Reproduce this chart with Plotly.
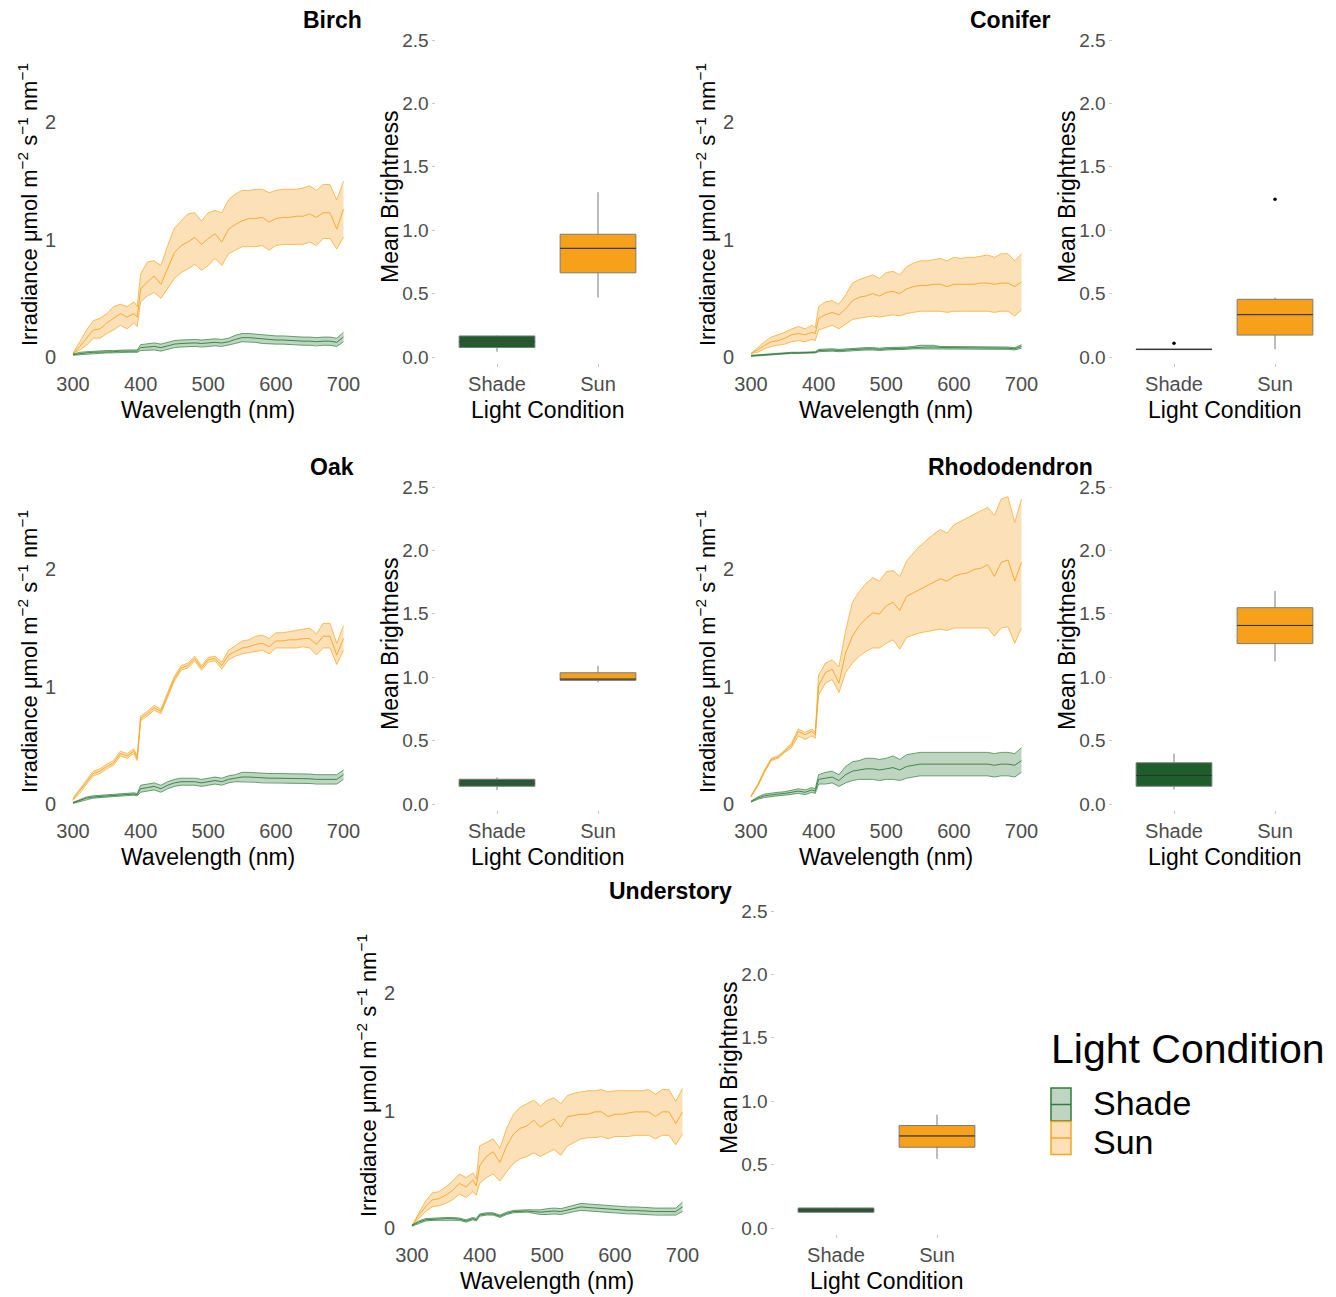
import plotly.graph_objects as go

# ---------------- DATA ----------------
SPECIES = ["Birch", "Conifer", "Oak", "Rhododendron", "Understory"]
CONDITIONS = ["Shade", "Sun"]
WAVELENGTH = [300, 310, 320, 330, 340, 350, 360, 370, 380, 390, 395,
              400, 410, 420, 430, 440, 450, 460, 470, 480, 490,
              500, 510, 520, 530, 540, 550, 560, 570, 580, 590,
              600, 610, 620, 630, 640, 650, 660, 670, 680, 690, 700]

BIRCH_SUN_MEAN = [.03, .09, .16, .23, .24, .29, .33, .37, .34, .37, .34,
                  .58, .64, .69, .62, .75, .89, .95, .98, 1.02, .96,
                  1.01, 1.05, .98, 1.09, 1.13, 1.16, 1.18, 1.18, 1.19, 1.15,
                  1.18, 1.19, 1.19, 1.20, 1.20, 1.22, 1.19, 1.23, 1.23, 1.09, 1.26]
BIRCH_SUN_LO = [.03, .06, .10, .16, .16, .20, .23, .27, .24, .29, .26,
                .47, .52, .55, .50, .58, .67, .72, .75, .79, .74,
                .78, .84, .78, .88, .91, .94, .94, .94, .95, .91,
                .95, .96, .96, .96, .96, .98, .95, 1.01, 1.01, .92, 1.02]
BIRCH_SUN_HI = [.03, .13, .23, .31, .33, .37, .43, .45, .43, .47, .43,
                .71, .81, .82, .78, .95, 1.10, 1.16, 1.22, 1.23, 1.16,
                1.23, 1.25, 1.23, 1.34, 1.39, 1.42, 1.42, 1.43, 1.43, 1.40,
                1.42, 1.43, 1.43, 1.43, 1.44, 1.46, 1.42, 1.47, 1.47, 1.34, 1.50]
BIRCH_SHADE_MEAN = [.02, .03, .035, .04, .04, .045, .045, .05, .05, .05, .05,
                    .08, .085, .09, .08, .095, .11, .115, .12, .12, .115,
                    .12, .125, .12, .13, .15, .165, .165, .16, .15, .145,
                    .145, .145, .14, .14, .135, .135, .13, .135, .135, .125, .17]
BIRCH_SHADE_LO = [.015, .02, .025, .03, .03, .035, .035, .04, .04, .04, .04,
                  .055, .06, .06, .05, .065, .08, .085, .09, .09, .085,
                  .09, .095, .09, .10, .115, .13, .13, .125, .115, .11,
                  .11, .11, .105, .105, .10, .10, .095, .10, .10, .09, .13]
BIRCH_SHADE_HI = [.025, .04, .045, .05, .05, .055, .055, .06, .06, .06, .06,
                  .105, .11, .12, .11, .125, .14, .145, .15, .15, .145,
                  .15, .155, .15, .16, .185, .20, .20, .195, .185, .18,
                  .18, .18, .175, .175, .17, .17, .165, .17, .17, .16, .21]

CONIFER_SUN_MEAN = [.03, .06, .10, .13, .14, .16, .19, .20, .19, .21, .20,
                    .33, .36, .38, .36, .41, .48, .51, .52, .54, .52,
                    .55, .56, .54, .58, .60, .61, .61, .62, .62, .60,
                    .62, .62, .62, .62, .63, .63, .62, .63, .63, .60, .64]
CONIFER_SUN_LO = [.03, .04, .07, .09, .10, .11, .13, .14, .13, .15, .14,
                  .23, .25, .27, .24, .28, .32, .33, .34, .35, .34,
                  .35, .36, .35, .37, .38, .39, .39, .39, .39, .38,
                  .39, .39, .39, .39, .39, .39, .38, .39, .39, .35, .40]
CONIFER_SUN_HI = [.03, .08, .13, .17, .19, .21, .24, .26, .24, .27, .25,
                  .43, .47, .48, .45, .53, .63, .66, .68, .70, .67,
                  .72, .73, .70, .77, .80, .82, .82, .83, .84, .82,
                  .85, .84, .85, .85, .86, .87, .85, .88, .88, .82, .88]
CONIFER_SHADE_MEAN = [.01, .015, .02, .025, .03, .03, .035, .035, .035, .04, .04,
                      .055, .06, .06, .055, .06, .065, .07, .07, .07, .065,
                      .07, .07, .07, .075, .08, .085, .085, .085, .08, .08,
                      .08, .08, .08, .075, .075, .075, .075, .075, .075, .07, .09]
CONIFER_SHADE_LO = [.005, .01, .015, .02, .025, .025, .03, .03, .03, .035, .035,
                    .045, .05, .05, .045, .05, .055, .06, .06, .06, .055,
                    .06, .06, .06, .065, .07, .07, .07, .07, .07, .07,
                    .07, .07, .07, .065, .065, .065, .065, .065, .065, .06, .075]
CONIFER_SHADE_HI = [.015, .02, .025, .03, .035, .035, .04, .04, .04, .045, .045,
                    .065, .07, .07, .065, .07, .075, .08, .08, .08, .075,
                    .08, .08, .08, .085, .09, .10, .10, .10, .09, .09,
                    .09, .09, .09, .085, .085, .085, .085, .085, .085, .08, .105]

OAK_SUN_MEAN = [.04, .11, .19, .26, .28, .32, .35, .43, .41, .45, .39,
                .73, .77, .82, .79, .93, 1.07, 1.16, 1.18, 1.24, 1.16,
                1.23, 1.24, 1.18, 1.27, 1.30, 1.33, 1.34, 1.36, 1.37, 1.34,
                1.39, 1.39, 1.40, 1.40, 1.41, 1.41, 1.36, 1.43, 1.43, 1.27, 1.41]
OAK_SUN_LO = [.03, .09, .17, .24, .26, .30, .33, .41, .39, .43, .37,
              .71, .75, .80, .77, .91, 1.05, 1.14, 1.16, 1.22, 1.14,
              1.21, 1.22, 1.15, 1.23, 1.26, 1.28, 1.29, 1.30, 1.31, 1.28,
              1.33, 1.33, 1.33, 1.33, 1.34, 1.33, 1.27, 1.33, 1.33, 1.19, 1.31]
OAK_SUN_HI = [.05, .13, .21, .28, .30, .34, .37, .45, .43, .47, .41,
              .75, .79, .84, .81, .95, 1.09, 1.18, 1.20, 1.26, 1.18,
              1.25, 1.26, 1.21, 1.31, 1.35, 1.39, 1.40, 1.43, 1.44, 1.41,
              1.46, 1.46, 1.47, 1.48, 1.49, 1.50, 1.45, 1.54, 1.54, 1.37, 1.52]
OAK_SHADE_MEAN = [.01, .03, .05, .06, .065, .07, .075, .08, .085, .085, .08,
                  .13, .14, .15, .13, .16, .18, .19, .19, .19, .18,
                  .19, .20, .19, .21, .22, .23, .23, .225, .22, .22,
                  .22, .22, .215, .215, .215, .215, .21, .21, .21, .21, .25]
OAK_SHADE_LO = [.005, .02, .04, .05, .055, .06, .065, .07, .075, .075, .07,
                .10, .11, .12, .10, .13, .15, .16, .16, .16, .15,
                .16, .17, .16, .18, .19, .19, .19, .185, .18, .18,
                .18, .18, .175, .175, .175, .175, .17, .17, .17, .17, .21]
OAK_SHADE_HI = [.015, .04, .06, .07, .075, .08, .085, .09, .095, .095, .09,
                .16, .17, .18, .16, .19, .21, .22, .22, .22, .21,
                .22, .23, .22, .24, .25, .27, .27, .265, .26, .26,
                .26, .26, .255, .255, .255, .255, .25, .25, .25, .25, .29]

RHODO_SUN_MEAN = [.065, .16, .28, .38, .40, .45, .50, .62, .59, .62, .59,
                  1.01, 1.12, 1.15, 1.03, 1.29, 1.43, 1.52, 1.58, 1.63, 1.62,
                  1.69, 1.72, 1.65, 1.77, 1.80, 1.83, 1.86, 1.89, 1.92, 1.90,
                  1.94, 1.96, 1.97, 2.00, 2.01, 2.04, 1.94, 2.06, 2.08, 1.90, 2.06]
RHODO_SUN_LO = [.06, .15, .27, .37, .39, .44, .48, .58, .55, .58, .56,
                .93, 1.03, 1.06, .95, 1.12, 1.20, 1.26, 1.30, 1.33, 1.33,
                1.37, 1.40, 1.32, 1.42, 1.44, 1.46, 1.47, 1.48, 1.49, 1.48,
                1.50, 1.50, 1.50, 1.50, 1.50, 1.50, 1.43, 1.50, 1.51, 1.37, 1.50]
RHODO_SUN_HI = [.07, .17, .29, .39, .41, .46, .52, .64, .61, .64, .61,
                1.10, 1.20, 1.23, 1.17, 1.48, 1.72, 1.81, 1.88, 1.93, 1.90,
                1.98, 1.99, 1.94, 2.07, 2.14, 2.20, 2.25, 2.30, 2.34, 2.31,
                2.38, 2.41, 2.44, 2.47, 2.50, 2.53, 2.46, 2.60, 2.62, 2.40, 2.60]
RHODO_SHADE_MEAN = [.02, .05, .07, .08, .085, .09, .10, .11, .10, .12, .11,
                    .21, .22, .23, .20, .25, .28, .29, .30, .30, .29,
                    .30, .31, .29, .32, .33, .34, .34, .34, .34, .335,
                    .34, .34, .34, .34, .34, .34, .33, .34, .34, .33, .37]
RHODO_SHADE_LO = [.015, .04, .055, .065, .07, .075, .08, .09, .08, .10, .09,
                  .17, .17, .18, .15, .18, .20, .21, .21, .21, .20,
                  .21, .21, .20, .22, .23, .24, .24, .24, .24, .235,
                  .24, .24, .24, .24, .24, .24, .23, .24, .24, .23, .27]
RHODO_SHADE_HI = [.025, .06, .085, .095, .10, .105, .12, .13, .12, .14, .13,
                  .25, .27, .28, .25, .32, .36, .37, .39, .39, .38,
                  .39, .41, .38, .42, .43, .44, .44, .44, .44, .435,
                  .44, .44, .44, .44, .44, .44, .43, .44, .44, .43, .48]

UNDER_SUN_MEAN = [.02, .11, .18, .24, .25, .28, .32, .38, .35, .41, .36,
                  .53, .61, .65, .56, .70, .80, .85, .87, .92, .86,
                  .90, .93, .86, .95, .96, .97, .97, .99, .99, .95,
                  .97, .97, .98, .99, .99, .99, .95, .99, .99, .89, .99]
UNDER_SUN_LO = [.02, .08, .14, .18, .19, .21, .24, .29, .26, .31, .28,
                .38, .43, .46, .40, .48, .55, .59, .61, .64, .61,
                .64, .67, .62, .70, .73, .76, .77, .77, .78, .76,
                .78, .78, .78, .79, .79, .79, .76, .79, .79, .71, .80]
UNDER_SUN_HI = [.02, .13, .23, .30, .31, .35, .40, .46, .43, .47, .42,
                .70, .73, .76, .68, .85, .97, 1.03, 1.06, 1.09, 1.04,
                1.09, 1.11, 1.06, 1.13, 1.15, 1.16, 1.17, 1.17, 1.18, 1.16,
                1.17, 1.17, 1.17, 1.17, 1.17, 1.18, 1.14, 1.18, 1.18, 1.08, 1.19]
UNDER_SHADE_MEAN = [.02, .05, .07, .075, .075, .08, .08, .075, .06, .08, .07,
                    .11, .12, .12, .10, .125, .14, .145, .145, .14, .135,
                    .14, .145, .14, .155, .17, .18, .175, .17, .165, .16,
                    .16, .155, .15, .15, .145, .145, .14, .14, .14, .14, .18]
UNDER_SHADE_LO = [.015, .04, .06, .065, .065, .07, .07, .065, .05, .07, .06,
                  .10, .11, .11, .09, .115, .13, .135, .135, .125, .115,
                  .115, .12, .115, .13, .14, .15, .145, .14, .135, .13,
                  .13, .125, .12, .12, .115, .115, .11, .11, .11, .11, .14]
UNDER_SHADE_HI = [.025, .06, .08, .085, .085, .09, .09, .085, .07, .09, .08,
                  .12, .13, .13, .11, .135, .15, .155, .155, .155, .155,
                  .165, .17, .165, .18, .20, .21, .205, .20, .195, .19,
                  .19, .185, .18, .18, .175, .175, .17, .17, .17, .17, .22]

# Boxplot summaries, ordered as SPECIES
SHADE_Q1 = [0.075, 0.058, 0.140, 0.140, 0.124]
SHADE_MED = [0.120, 0.060, 0.165, 0.225, 0.140]
SHADE_Q3 = [0.166, 0.063, 0.195, 0.325, 0.158]
SHADE_LOW = [0.042, 0.058, 0.110, 0.114, 0.124]
SHADE_HIGH = [0.170, 0.063, 0.210, 0.397, 0.160]
SHADE_OUTLIERS = [[], [0.108], [], [], []]
SUN_Q1 = [0.664, 0.173, 0.975, 1.265, 0.637]
SUN_MED = [0.857, 0.334, 0.985, 1.408, 0.726]
SUN_Q3 = [0.968, 0.455, 1.035, 1.548, 0.808]
SUN_LOW = [0.468, 0.061, 0.960, 1.125, 0.545]
SUN_HIGH = [1.300, 0.468, 1.090, 1.680, 0.894]
SUN_OUTLIERS = [[], [1.244], [], [], []]

SPECTRA = {
    "Birch": {"Sun": (BIRCH_SUN_LO, BIRCH_SUN_MEAN, BIRCH_SUN_HI),
              "Shade": (BIRCH_SHADE_LO, BIRCH_SHADE_MEAN, BIRCH_SHADE_HI)},
    "Conifer": {"Sun": (CONIFER_SUN_LO, CONIFER_SUN_MEAN, CONIFER_SUN_HI),
                "Shade": (CONIFER_SHADE_LO, CONIFER_SHADE_MEAN, CONIFER_SHADE_HI)},
    "Oak": {"Sun": (OAK_SUN_LO, OAK_SUN_MEAN, OAK_SUN_HI),
            "Shade": (OAK_SHADE_LO, OAK_SHADE_MEAN, OAK_SHADE_HI)},
    "Rhododendron": {"Sun": (RHODO_SUN_LO, RHODO_SUN_MEAN, RHODO_SUN_HI),
                     "Shade": (RHODO_SHADE_LO, RHODO_SHADE_MEAN, RHODO_SHADE_HI)},
    "Understory": {"Sun": (UNDER_SUN_LO, UNDER_SUN_MEAN, UNDER_SUN_HI),
                   "Shade": (UNDER_SHADE_LO, UNDER_SHADE_MEAN, UNDER_SHADE_HI)},
}

# ---------------- STYLE / LAYOUT ----------------
FIG_W, FIG_H = 1336, 1297
FONT = "Liberation Sans, Arial, Helvetica, sans-serif"
TICK_COLOR = "#4D4D4D"
LINE_COL = {"Sun": "#F5A623", "Shade": "#2F7D3A"}
RIBBON_FILL = {"Sun": "rgba(245,160,30,0.32)", "Shade": "rgba(40,120,50,0.30)"}
BOX_FILL = {"Sun": "#F7A11A", "Shade": "#1D5E2C"}

# pixel anchors: (spectrum x at 300 nm, box x of "Shade", baseline y, title x, title y)
PANELS = {
    "Birch": (73, 497, 357, 332, 20),
    "Conifer": (751, 1174, 357, 1010, 20),
    "Oak": (73, 497, 804, 332, 467),
    "Rhododendron": (751, 1174, 804, 1010, 467),
    "Understory": (412, 836, 1228, 670, 891),
}
K_NM = 270.5 / 400.0
K_SPEC = 117.3
K_CAT = 101.0
K_BOX = 126.8
SPEC_XR = [290, 710]
SPEC_YR = [-0.06, 2.72]
BOX_XR = [0.4, 2.6]
BOX_YR = [-0.05, 2.62]


def fx(px):
    return px / FIG_W


def fy(py):
    return 1 - py / FIG_H


fig = go.Figure()
layout = dict(
    width=FIG_W, height=FIG_H, margin=dict(l=0, r=0, t=0, b=0, pad=0, autoexpand=False),
    plot_bgcolor="white", paper_bgcolor="white", showlegend=False,
    font=dict(family=FONT, color="black"),
)
annotations = []
shapes = []

for i, sp in enumerate(SPECIES):
    x300, shade_x, y0, tx, ty = PANELS[sp]
    n_s = 2 * i + 1
    n_b = 2 * i + 2
    xs, ys = f"x{n_s}", f"y{n_s}"
    xb, yb = f"x{n_b}", f"y{n_b}"

    # spectrum axes
    layout[f"xaxis{n_s}"] = dict(
        domain=[fx(x300 + (SPEC_XR[0] - 300) * K_NM), fx(x300 + (SPEC_XR[1] - 300) * K_NM)],
        range=SPEC_XR, anchor=ys, tickvals=[300, 400, 500, 600, 700], automargin=False,
        showgrid=False, zeroline=False, showline=False, ticks="",
        tickfont=dict(size=20, color=TICK_COLOR), ticklabelstandoff=6)
    layout[f"yaxis{n_s}"] = dict(
        domain=[fy(y0 - SPEC_YR[0] * K_SPEC), fy(y0 - SPEC_YR[1] * K_SPEC)],
        range=SPEC_YR, anchor=xs, tickvals=[0, 1, 2], automargin=False,
        showgrid=False, zeroline=False, showline=False, ticks="",
        tickfont=dict(size=20, color=TICK_COLOR), ticklabelstandoff=9)

    # box axes
    layout[f"xaxis{n_b}"] = dict(
        domain=[fx(shade_x + (BOX_XR[0] - 1) * K_CAT), fx(shade_x + (BOX_XR[1] - 1) * K_CAT)],
        range=BOX_XR, anchor=yb, tickvals=[1, 2], ticktext=CONDITIONS, automargin=False,
        showgrid=False, zeroline=False, showline=False, ticks="outside",
        ticklen=3, tickcolor="#C8C8C8", tickwidth=1,
        tickfont=dict(size=20, color=TICK_COLOR))
    layout[f"yaxis{n_b}"] = dict(
        domain=[fy(y0 - BOX_YR[0] * K_BOX), fy(y0 - BOX_YR[1] * K_BOX)],
        range=BOX_YR, anchor=xb, tickvals=[0, 0.5, 1.0, 1.5, 2.0, 2.5],
        tickformat=".1f", automargin=False,
        showgrid=False, zeroline=False, showline=False, ticks="outside",
        ticklen=3, tickcolor="#C8C8C8", tickwidth=1,
        tickfont=dict(size=19, color=TICK_COLOR))

    # spectra: Sun first, Shade on top
    for cond in ["Sun", "Shade"]:
        lo, mean, hi = SPECTRA[sp][cond]
        fig.add_trace(go.Scatter(
            x=WAVELENGTH + WAVELENGTH[::-1], y=hi + lo[::-1], fill="toself",
            fillcolor=RIBBON_FILL[cond], line=dict(width=0), mode="lines",
            hoverinfo="skip", xaxis=xs, yaxis=ys, name=cond))
        for arr, w in ((lo, 0.7), (hi, 0.7), (mean, 0.9)):
            fig.add_trace(go.Scatter(
                x=WAVELENGTH, y=arr, mode="lines",
                line=dict(color=LINE_COL[cond], width=w),
                xaxis=xs, yaxis=ys, name=cond))

    # boxplots
    stats = {
        "Shade": (SHADE_Q1[i], SHADE_MED[i], SHADE_Q3[i], SHADE_LOW[i], SHADE_HIGH[i], SHADE_OUTLIERS[i]),
        "Sun": (SUN_Q1[i], SUN_MED[i], SUN_Q3[i], SUN_LOW[i], SUN_HIGH[i], SUN_OUTLIERS[i]),
    }
    for pos, cond in enumerate(CONDITIONS, start=1):
        q1, med, q3, lowf, highf, outs = stats[cond]
        fig.add_trace(go.Box(
            x=[pos], q1=[q1], median=[med], q3=[q3], lowerfence=[lowf], upperfence=[highf],
            width=0.75, whiskerwidth=0, fillcolor=BOX_FILL[cond],
            line=dict(color="#7A7A7A", width=1), boxpoints=False,
            xaxis=xb, yaxis=yb, name=cond))
        fig.add_trace(go.Scatter(
            x=[pos - 0.375, pos + 0.375], y=[med, med], mode="lines",
            line=dict(color="#303030", width=1.0), xaxis=xb, yaxis=yb, name=cond))
        if outs:
            fig.add_trace(go.Scatter(
                x=[pos] * len(outs), y=outs, mode="markers",
                marker=dict(color="black", size=3.5), xaxis=xb, yaxis=yb, name=cond))

    # titles and axis titles
    annotations.append(dict(text=f"<b>{sp}</b>", x=fx(tx), y=fy(ty), xref="paper", yref="paper",
                            showarrow=False, xanchor="center", yanchor="middle",
                            font=dict(size=23, family=FONT, color="black")))
    annotations.append(dict(text="Wavelength (nm)", x=fx(x300 + 200 * K_NM), y=fy(y0 + 53),
                            xref="paper", yref="paper", showarrow=False,
                            xanchor="center", yanchor="middle", font=dict(size=23)))
    annotations.append(dict(text="Light Condition", x=fx(shade_x + 0.5 * K_CAT), y=fy(y0 + 53),
                            xref="paper", yref="paper", showarrow=False,
                            xanchor="center", yanchor="middle", font=dict(size=23)))
    annotations.append(dict(
        text="Irradiance \u03bcmol m<sup>\u22122</sup> s<sup>\u22121</sup> nm<sup>\u22121</sup>",
        x=fx(x300 - 45), y=fy(y0 - 152), xref="paper", yref="paper", showarrow=False,
        textangle=-90, xanchor="center", yanchor="middle", font=dict(size=22)))
    annotations.append(dict(text="Mean Brightness", x=fx(shade_x - 107), y=fy(y0 - 160),
                            xref="paper", yref="paper", showarrow=False, textangle=-90,
                            xanchor="center", yanchor="middle", font=dict(size=23)))

# manual legend
annotations.append(dict(text="Light Condition", x=fx(1049), y=fy(1049), xref="paper", yref="paper",
                        showarrow=False, xanchor="left", yanchor="middle", font=dict(size=41)))
LEGEND_LABEL_Y = {"Shade": 1103, "Sun": 1142}
for j, cond in enumerate(CONDITIONS):
    top = 1088 + j * 33.5
    shapes.append(dict(type="rect", xref="paper", yref="paper",
                       x0=fx(1051), x1=fx(1071), y0=fy(top), y1=fy(top + 33),
                       fillcolor=RIBBON_FILL[cond], line=dict(color=LINE_COL[cond], width=1.5)))
    shapes.append(dict(type="line", xref="paper", yref="paper",
                       x0=fx(1051), x1=fx(1071), y0=fy(top + 16.5), y1=fy(top + 16.5),
                       line=dict(color=LINE_COL[cond], width=1.5)))
    annotations.append(dict(text=cond, x=fx(1091), y=fy(LEGEND_LABEL_Y[cond]), xref="paper",
                            yref="paper", showarrow=False, xanchor="left", yanchor="middle",
                            font=dict(size=34)))

layout["annotations"] = annotations
layout["shapes"] = shapes
fig.update_layout(**layout)
fig.write_html("out.html")
